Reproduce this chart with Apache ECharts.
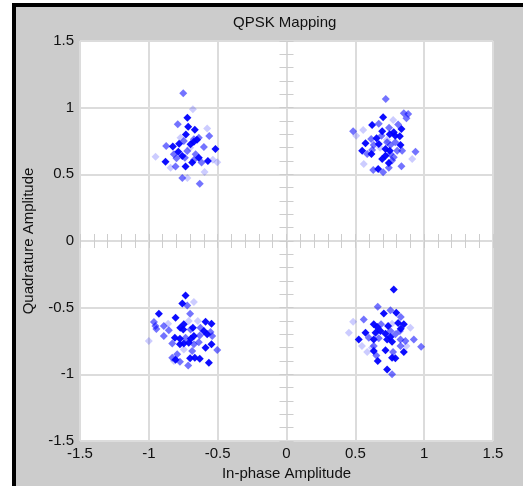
<!DOCTYPE html>
<html>
<head>
<meta charset="utf-8">
<script src="https://cdn.jsdelivr.net/npm/echarts@6/dist/echarts.min.js"></script>
<style>
html,body{margin:0;padding:0;background:#fff;width:523px;height:486px;overflow:hidden;}
#frame{position:absolute;left:12px;top:3px;width:507px;height:479px;border-left:4px solid #000;border-top:4px solid #000;background:#cccccc;}
#c{position:absolute;left:0;top:0;width:523px;height:486px;}
</style>
</head>
<body>
<div id="frame"></div>
<div id="c"></div>
<script>
// Axis ticks
const majorTicks = { min: -1.5, max: 1.5, interval: 0.5 };
const minorInterval = 0.1;

// Top-left cluster
const tlDark = [[-0.72,0.925],[-0.714,0.857],[-0.666,0.835],[-0.731,0.798],[-0.826,0.708],[-0.78,0.73],[-0.697,0.725],[-0.673,0.745],[-0.65,0.76],[-0.516,0.69],[-0.879,0.595],[-0.786,0.67],[-0.757,0.638],[-0.637,0.625],[-0.685,0.588],[-0.571,0.6],[-0.733,0.558]];
const tlMid = [[-0.75,1.108],[-0.79,0.875],[-0.561,0.788],[-0.874,0.713],[-0.746,0.75],[-0.673,0.763],[-0.637,0.775],[-0.6,0.705],[-0.818,0.65],[-0.799,0.62],[-0.738,0.625],[-0.721,0.675],[-0.66,0.65],[-0.673,0.608],[-0.617,0.588],[-0.806,0.558],[-0.757,0.473],[-0.63,0.43]];
const tlLight = [[-0.68,0.988],[-0.576,0.843],[-0.77,0.775],[-0.951,0.632],[-0.535,0.61],[-0.503,0.59],[-0.595,0.517],[-0.72,0.473],[-0.842,0.55],[-0.7,0.7]];

// Top-right cluster
const trDark = [[0.702,0.928],[0.622,0.87],[0.695,0.823],[0.835,0.84],[0.75,0.8],[0.779,0.815],[0.79,0.79],[0.823,0.785],[0.654,0.77],[0.574,0.733],[0.67,0.728],[0.828,0.72],[0.55,0.677],[0.719,0.69],[0.75,0.677],[0.719,0.64],[0.695,0.615],[0.743,0.585],[0.666,0.54],[0.617,0.653]];
const trMid = [[0.721,1.065],[0.852,0.958],[0.884,0.953],[0.871,0.92],[0.811,0.873],[0.67,0.88],[0.484,0.823],[0.745,0.85],[0.69,0.79],[0.615,0.765],[0.634,0.72],[0.731,0.74],[0.755,0.72],[0.79,0.74],[0.622,0.683],[0.804,0.677],[0.84,0.677],[0.937,0.67],[0.586,0.653],[0.755,0.653],[0.779,0.628],[0.767,0.603],[0.835,0.56],[0.63,0.533],[0.702,0.515],[0.743,0.55]];
const trLight = [[0.775,0.908],[0.557,0.833],[0.506,0.79],[0.913,0.615],[0.561,0.578],[0.73,0.76],[0.68,0.7]];

// Bottom-left cluster
const blDark = [[-0.733,-0.408],[-0.757,-0.468],[-0.927,-0.545],[-0.806,-0.575],[-0.746,-0.625],[-0.545,-0.62],[-0.588,-0.605],[-0.772,-0.65],[-0.75,-0.663],[-0.68,-0.65],[-0.6,-0.675],[-0.811,-0.725],[-0.774,-0.733],[-0.695,-0.733],[-0.673,-0.713],[-0.576,-0.7],[-0.774,-0.775],[-0.746,-0.768],[-0.71,-0.763],[-0.588,-0.8],[-0.545,-0.775],[-0.806,-0.89],[-0.7,-0.88],[-0.666,-0.875],[-0.63,-0.883],[-0.564,-0.913]];
const blMid = [[-0.721,-0.483],[-0.7,-0.545],[-0.963,-0.608],[-0.952,-0.638],[-0.891,-0.638],[-0.945,-0.66],[-0.855,-0.67],[-0.697,-0.663],[-0.625,-0.65],[-0.552,-0.683],[-0.891,-0.713],[-0.733,-0.725],[-0.63,-0.708],[-0.54,-0.713],[-0.83,-0.768],[-0.673,-0.775],[-0.637,-0.76],[-0.503,-0.818],[-0.794,-0.85],[-0.83,-0.875],[-0.774,-0.905],[-0.714,-0.933],[-0.685,-0.825]];
const blLight = [[-0.673,-0.458],[-0.644,-0.6],[-0.71,-0.6],[-1.0,-0.75],[-0.746,-0.813],[-0.818,-0.9],[-0.86,-0.62]];

// Bottom-right cluster
const brDark = [[0.779,-0.363],[0.707,-0.543],[0.797,-0.538],[0.811,-0.615],[0.852,-0.625],[0.634,-0.625],[0.659,-0.645],[0.738,-0.638],[0.574,-0.688],[0.647,-0.688],[0.683,-0.675],[0.719,-0.695],[0.83,-0.658],[0.525,-0.738],[0.634,-0.738],[0.731,-0.738],[0.755,-0.72],[0.767,-0.755],[0.634,-0.825],[0.719,-0.82],[0.852,-0.833],[0.767,-0.875],[0.791,-0.88],[0.663,-0.9],[0.731,-0.963]];
const brMid = [[0.663,-0.493],[0.755,-0.52],[0.83,-0.57],[0.561,-0.588],[0.687,-0.625],[0.755,-0.675],[0.791,-0.7],[0.823,-0.675],[0.598,-0.725],[0.67,-0.73],[0.828,-0.738],[0.864,-0.75],[0.925,-0.738],[0.978,-0.793],[0.774,-0.833],[0.653,-0.858],[0.767,-1.0],[0.634,-0.788],[0.828,-0.788]];
const brLight = [[0.484,-0.605],[0.453,-0.688],[0.548,-0.788],[0.586,-0.833],[0.9,-0.65],[0.871,-0.788],[0.767,-0.62],[0.62,-0.8]];

const lightPts = [].concat(tlLight, trLight, blLight, brLight);
const midPts = [].concat(tlMid, trMid, blMid, brMid);
const darkPts = [].concat(tlDark, trDark, blDark, brDark);

const FONT = '"Liberation Sans", Arial, sans-serif';
const txt = { color: '#111', fontSize: 15, fontFamily: FONT };

function minorAxis(inside, extra) {
  return Object.assign({
    type: 'value', min: majorTicks.min, max: majorTicks.max, interval: minorInterval,
    axisLine: { show: false, onZero: true, onZeroAxisIndex: 0 },
    axisTick: { show: true, inside: inside, length: 7, lineStyle: { color: '#cdcdcd', width: 1 } },
    axisLabel: { show: false },
    splitLine: { show: false }
  }, extra);
}

const chart = echarts.init(document.getElementById('c'), null, { renderer: 'canvas' });
chart.setOption({
  backgroundColor: 'transparent',
  animation: false,
  title: {
    text: 'QPSK Mapping', left: 228, top: 10,
    textStyle: { color: '#111', fontSize: 15, fontWeight: 'normal', fontFamily: FONT }
  },
  grid: {
    left: 80, top: 41, width: 413, height: 400,
    show: true, backgroundColor: '#ffffff', borderColor: '#333', borderWidth: 1
  },
  xAxis: [
    {
      type: 'value', min: majorTicks.min, max: majorTicks.max, interval: majorTicks.interval,
      position: 'bottom',
      name: 'In-phase Amplitude', nameLocation: 'middle', nameGap: 23,
      nameTextStyle: txt,
      axisLine: { show: false, onZero: false },
      axisTick: { show: false },
      axisLabel: Object.assign({ margin: 5 }, txt),
      splitLine: { show: true, lineStyle: { color: '#dcdcdc', width: 2 } }
    },
    minorAxis(true, { position: 'bottom' }),
    minorAxis(false, { position: 'bottom' })
  ],
  yAxis: [
    {
      type: 'value', min: majorTicks.min, max: majorTicks.max, interval: majorTicks.interval,
      position: 'left',
      name: 'Quadrature Amplitude', nameLocation: 'middle', nameGap: 44,
      nameTextStyle: txt,
      axisLine: { show: false, onZero: false },
      axisTick: { show: false },
      axisLabel: Object.assign({ margin: 6 }, txt),
      splitLine: { show: true, lineStyle: { color: '#dcdcdc', width: 2 } }
    },
    minorAxis(true, { position: 'left' }),
    minorAxis(false, { position: 'left' })
  ],
  series: [
    { type: 'scatter', symbol: 'diamond', symbolSize: 8, data: lightPts,
      itemStyle: { color: '#0000ff', opacity: 0.2 } },
    { type: 'scatter', symbol: 'diamond', symbolSize: 8, data: midPts,
      itemStyle: { color: '#0000ff', opacity: 0.55 } },
    { type: 'scatter', symbol: 'diamond', symbolSize: 8, data: darkPts,
      itemStyle: { color: '#0000ff', opacity: 0.95 } }
  ]
});
</script>
</body>
</html>
